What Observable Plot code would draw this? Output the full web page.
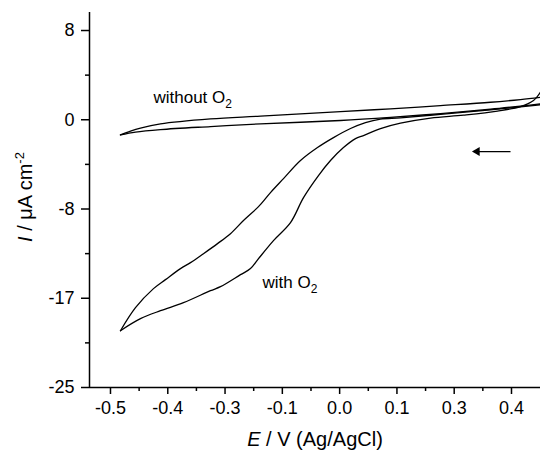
<!DOCTYPE html>
<html>
<head>
<meta charset="utf-8">
<script src="https://cdn.jsdelivr.net/npm/d3@7"></script>
<script src="https://cdn.jsdelivr.net/npm/@observablehq/plot@0.6"></script>
<style>
  html, body { margin: 0; padding: 0; background: #fff; }
</style>
</head>
<body>
<div id="chart"></div>
<script>
// ---- data (E in V on the plotted scale, I in µA cm^-2) ----
const withoutO2Upper = [
  [-0.4776,-1.65],[-0.4551,-1.30],[-0.4327,-1.02],[-0.3878,-0.63],[-0.2756,-0.17],
  [-0.1633,0.09],[0.0162,0.51],[0.1284,0.76],[0.2407,1.06],[0.3529,1.37],[0.4202,1.62],[0.4651,1.82]
];
const withoutO2Lower = [
  [-0.4776,-1.65],[-0.4439,-1.39],[-0.3878,-1.16],[-0.2756,-0.88],[-0.1633,-0.63],
  [0.0162,-0.32],[0.1284,-0.03],[0.2407,0.32],[0.3529,0.72],[0.4202,1.01],[0.4651,1.22]
];
const withO2Return = [
  [-0.4776,-19.75],[-0.4439,-17.62],[-0.4035,-15.86],[-0.3766,-15.03],[-0.3429,-14.01],
  [-0.3204,-13.46],[-0.2913,-12.63],[-0.2598,-11.70],[-0.2307,-10.78],[-0.2015,-9.57],
  [-0.1678,-8.28],[-0.1409,-6.98],[-0.1117,-5.69],[-0.0736,-4.02],[-0.0354,-2.82],
  [0.0005,-1.90],[0.0387,-1.06],[0.0723,-0.51],[0.1060,-0.19],[0.1509,-0.07],
  [0.2407,0.25],[0.3529,0.66],[0.4202,0.94],[0.4651,1.14]
];
const withO2Forward = [
  [-0.4776,-19.75],[-0.4327,-18.64],[-0.3878,-17.90],[-0.3362,-17.16],[-0.2756,-16.05],
  [-0.2531,-15.68],[-0.2082,-14.57],[-0.1858,-14.01],[-0.1678,-13.09],[-0.1342,-11.42],
  [-0.0960,-9.76],[-0.0668,-7.45],[-0.0332,-5.41],[-0.0062,-4.02],[0.0229,-2.82],
  [0.0499,-1.99],[0.0678,-1.71],[0.1060,-1.06],[0.1509,-0.56],[0.2182,-0.09],
  [0.2923,0.18],[0.3686,0.55],[0.4202,0.97],[0.4494,1.53],[0.4651,2.31]
];
const annotations = [
  {E: -0.4035, I: 1.34, label: "without O2"},
  {E: -0.1589, I: -15.77, label: "with O2"}
];
const arrowFrom = [0.3978, -3.19];
const arrowTo = [0.3228, -3.19];

const xTickValues = [-0.5, -0.3714, -0.2429, -0.1143, 0.0143, 0.1429, 0.2714, 0.4];
const xTickLabels = ["-0.5","-0.4","-0.3","-0.1","0.0","0.1","0.3","0.4"];
const yTickValues = [8, -0.25, -8.5, -16.75, -25];
const yTickLabels = ["8","0","-8","-17","-25"];
const xDomain = [-0.5471, 0.4651];
const yDomain = [-25, 9.665];
const xTitle = "E / V (Ag/AgCl)";
const yTitle = "I / μA cm-2";

// minor ticks halfway between majors
const xMinor = d3.pairs(xTickValues).map(([a,b]) => (a+b)/2);
const yMinor = d3.pairs(yTickValues).map(([a,b]) => (a+b)/2);

const toRows = arr => arr.map(([E, I]) => ({E, I}));

const chart = Plot.plot({
  width: 540,
  height: 455,
  marginLeft: 89,
  marginRight: 0,
  marginTop: 12,
  marginBottom: 68,
  style: {fontFamily: "'Liberation Sans', Arial, sans-serif", fontSize: "17px", color: "#000", background: "#fff"},
  x: {domain: xDomain},
  y: {domain: yDomain},
  marks: [
    Plot.axisX(xTickValues, {anchor: "bottom", tickSize: 7, tickPadding: 7, strokeWidth: 1.5, label: null, fontSize: 18,
      tickFormat: d => xTickLabels[xTickValues.indexOf(d)]}),
    Plot.axisX(xMinor, {anchor: "bottom", tickSize: 4, strokeWidth: 1.5, label: null, tickFormat: () => ""}),
    Plot.axisY(yTickValues, {anchor: "left", tickSize: 8, tickPadding: 7, strokeWidth: 1.5, label: null, fontSize: 18,
      tickFormat: d => yTickLabels[yTickValues.indexOf(d)]}),
    Plot.axisY(yMinor, {anchor: "left", tickSize: 4, strokeWidth: 1.5, label: null, tickFormat: () => ""}),
    Plot.ruleY([yDomain[0]], {stroke: "#000", strokeWidth: 1.5}),
    Plot.ruleX([xDomain[0]], {stroke: "#000", strokeWidth: 1.5}),
    Plot.line(toRows(withoutO2Upper), {x: "E", y: "I", stroke: "#000", strokeWidth: 1.3, curve: "catmull-rom"}),
    Plot.line(toRows(withoutO2Lower), {x: "E", y: "I", stroke: "#000", strokeWidth: 1.3, curve: "catmull-rom"}),
    Plot.line(toRows(withO2Return), {x: "E", y: "I", stroke: "#000", strokeWidth: 1.3, curve: "catmull-rom"}),
    Plot.line(toRows(withO2Forward), {x: "E", y: "I", stroke: "#000", strokeWidth: 1.3, curve: "catmull-rom"}),
    Plot.link([{x1: arrowFrom[0], y1: arrowFrom[1], x2: arrowTo[0], y2: arrowTo[1]}],
      {x1: "x1", y1: "y1", x2: "x2", y2: "y2", stroke: "#000", strokeWidth: 1.3}),
    Plot.dot([{E: arrowTo[0], I: arrowTo[1]}], {x: "E", y: "I", symbol: "triangle", r: 3.3, fill: "#000", stroke: "none", rotate: -90}),
    Plot.text(annotations, {x: "E", y: "I", text: "label", textAnchor: "start", lineAnchor: "bottom", fontSize: 17, fill: "#000"}),
    Plot.text([xTitle], {frameAnchor: "bottom", dy: 58, text: d => d, fontSize: 20, textAnchor: "middle", lineAnchor: "bottom", fill: "#000"}),
    Plot.text([yTitle], {frameAnchor: "left", dx: -61, rotate: -90, text: d => d, fontSize: 20, textAnchor: "middle", lineAnchor: "middle", fill: "#000"})
  ]
});

document.getElementById("chart").appendChild(chart);

// rich text post-processing (italics, sub/superscripts)
function rich(el, parts) {
  el.textContent = "";
  for (const p of parts) {
    const ts = document.createElementNS("http://www.w3.org/2000/svg", "tspan");
    ts.textContent = p.t;
    if (p.italic) ts.setAttribute("font-style", "italic");
    if (p.size) ts.setAttribute("font-size", p.size);
    if (p.dy) ts.setAttribute("dy", p.dy);
    el.appendChild(ts);
  }
}
chart.querySelectorAll("text").forEach(el => {
  const s = el.textContent;
  if (s === "without O2") rich(el, [{t: "without O"}, {t: "2", size: 12, dy: "5"}]);
  else if (s === "with O2") rich(el, [{t: "with O"}, {t: "2", size: 12, dy: "5"}]);
  else if (s === xTitle) rich(el, [{t: "E", italic: true}, {t: " / V (Ag/AgCl)"}]);
  else if (s === yTitle) {
    rich(el, [{t: "I", italic: true}, {t: " / μA cm"}, {t: "-2", size: 13, dy: "-8"}]);
    // place the rotated title: centred on the frame's height, baseline near x = 32
    const svgR = chart.getBoundingClientRect();
    const r = el.getBoundingClientRect();
    const cy = r.top + r.height / 2 - svgR.top;
    const right = r.right - svgR.left;
    const tx = 36 - right, ty = 197 - cy;
    el.setAttribute("transform", `translate(${tx},${ty}) ` + (el.getAttribute("transform") || ""));
  }
});
</script>
</body>
</html>
